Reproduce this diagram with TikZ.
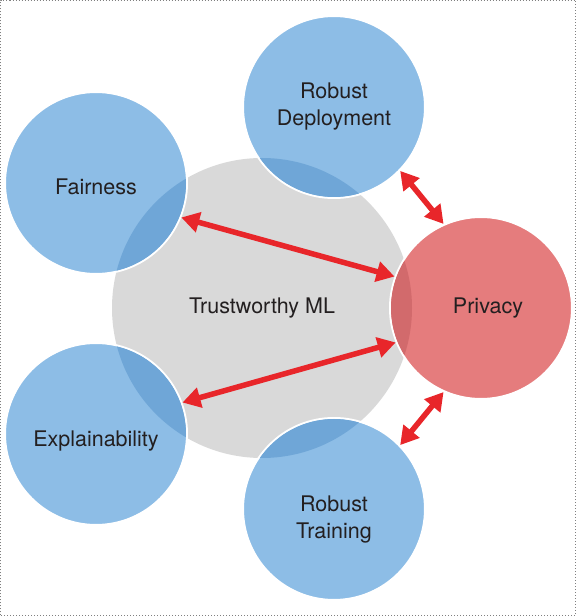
\documentclass[tikz,border=0pt]{standalone}
\usepackage{fontspec}
\setmainfont{TeX Gyre Heros}
\usetikzlibrary{arrows.meta}
\definecolor{topicblue}{HTML}{8DBDE6}
\definecolor{topicbluedark}{HTML}{6FA6D7}
\definecolor{privred}{HTML}{E57C7D}
\definecolor{privreddark}{HTML}{D26A6C}
\definecolor{coregray}{HTML}{D9D9D9}
\definecolor{linkred}{HTML}{E8262A}
\definecolor{labeltext}{HTML}{231F20}
\tikzstyle{topic} = [circle, fill=topicblue, draw=white, line width=2pt, minimum size=182pt, inner sep=0pt, align=center, text=labeltext]
\tikzstyle{biarrow} = [linkred, line width=5.5pt, {Triangle[length=18pt,width=20pt]}-{Triangle[length=18pt,width=20pt]}]

\begin{document}
\begin{tikzpicture}[x=1pt, y=1pt, font=\fontsize{21.5}{27}\selectfont]
  \useasboundingbox (0,0) rectangle (576,616);
  \draw[gray, dotted, line width=1pt] (0.5,0.5) rectangle (575.5,615.5);
  \node[circle, fill=coregray, minimum size=300pt, inner sep=0pt, text=labeltext] (tml) at (262,308) {Trustworthy ML};
  \node[topic, label={[text=labeltext, yshift=-4pt]center:Fairness}] (fair) at (96,433) {};
  \node[topic, label={[text=labeltext, yshift=-7pt]center:Explainability}] (expl) at (96,182) {};
  \node[topic] (rdep) at (334,509) {Robust\\Deployment};
  \node[topic, label={[text=labeltext, align=center, yshift=-11pt]center:Robust\\Training}] (rtrain) at (334,107) {};
  \node[topic, fill=privred] (priv) at (481,308) {\hspace{14pt}Privacy};
  % darker parts where the circles lie over the core
  \begin{scope}
    \clip (tml.center) circle (150pt);
    \fill[topicbluedark] (fair.center) circle (90pt);
    \fill[topicbluedark] (expl.center) circle (90pt);
    \fill[topicbluedark] (rdep.center) circle (90pt);
    \fill[topicbluedark] (rtrain.center) circle (90pt);
    \fill[privreddark] (priv.center) circle (90pt);
  \end{scope}
  \draw[biarrow] (fair.-22) -- (priv.160);
  \draw[biarrow] (expl.20) -- (priv.-158);
  \draw[biarrow] (rdep.-44) -- (priv.114);
  \draw[biarrow] (rtrain.44) -- (priv.-114);
\end{tikzpicture}
\end{document}
